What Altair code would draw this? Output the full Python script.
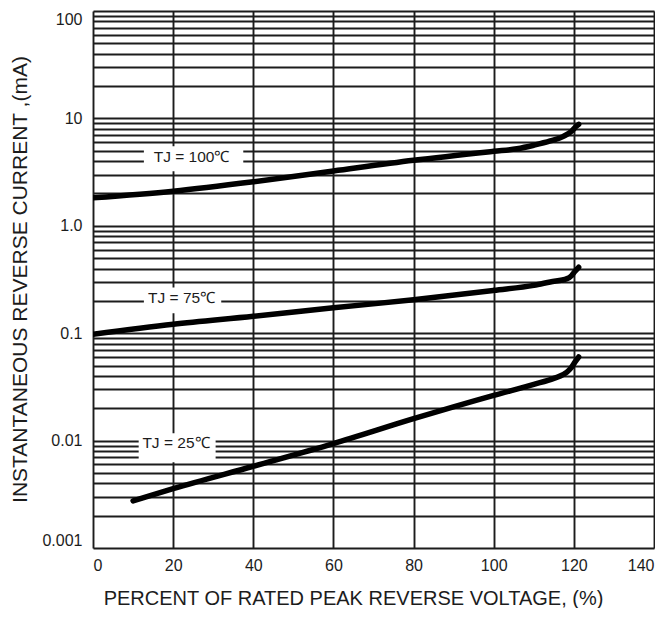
import altair as alt
import pandas as pd

# ---- axis ticks / labels ----
x_ticks = [0, 20, 40, 60, 80, 100, 120, 140]
y_decades = [0.001, 0.01, 0.1, 1, 10, 100]
y_decade_labels = ["0.001", "0.01", "0.1", "1.0", "10", "100"]
y_grid = sorted(set([round(m * 10 ** k, 6) for k in range(-3, 2) for m in range(1, 10)] + [100]))

# ---- curves ----
series_names = ["TJ = 100℃", "TJ = 75℃", "TJ = 25℃"]
x_100 = [0, 20, 40, 60, 80, 100, 105.8, 110, 114.1, 117.4, 119.5, 120.6, 121.2]
y_100 = [1.82, 2.10, 2.57, 3.24, 4.07, 4.94, 5.21, 5.62, 6.16, 6.81, 7.63, 8.44, 8.81]
x_75 = [0, 20, 40, 60, 80, 100, 110, 114.1, 118.3, 119.5, 120.3, 121.2]
y_75 = [0.0977, 0.121, 0.1435, 0.1725, 0.2046, 0.2506, 0.279, 0.300, 0.322, 0.346, 0.377, 0.411]
x_25 = [10, 20, 40, 60, 80, 100, 110, 115, 118.3, 119.4, 120.3, 121.2]
y_25 = [0.00275, 0.00357, 0.00577, 0.00938, 0.0160, 0.0264, 0.0334, 0.0380, 0.0435, 0.0481, 0.054, 0.060]

# ---- annotation anchors ----
label_x = [24.6, 22.1, 20.7]
label_y = [4.34, 0.211, 0.00944]
box_x0 = [12.7, 12.7, 11.4]
box_x1 = [37.5, 32.0, 30.6]
box_y0 = [3.22, 0.153, 0.00628]
box_y1 = [5.50, 0.267, 0.0117]

rows = []
for name, xs, ys in zip(series_names, [x_100, x_75, x_25], [y_100, y_75, y_25]):
    for i, (a, b) in enumerate(zip(xs, ys)):
        rows.append({"series": name, "x": a, "y": b, "order": i})
curves = pd.DataFrame(rows)

ann = pd.DataFrame({
    "label": series_names, "x": label_x, "y": label_y,
    "bx0": box_x0, "bx1": box_x1, "by0": box_y0, "by1": box_y1,
})

FONT = "Liberation Sans"
INK = "#1c1c1c"

label_expr = " : ".join(
    [f"datum.value == {v} ? '{t}'" for v, t in zip(y_decades, y_decade_labels)]
) + " : ''"

xscale = alt.Scale(domain=[0, 140], nice=False, zero=False)
yscale = alt.Scale(type="log", domain=[0.001, 100], nice=False)

x_axis = alt.Axis(
    values=x_ticks, grid=True, gridColor=INK, gridWidth=1.9, gridOpacity=1,
    ticks=False, tickSize=0, domain=False, labelFont=FONT, labelFontSize=16,
    labelColor=INK, labelPadding=9, labelFlush=True,
    title="PERCENT OF RATED PEAK REVERSE VOLTAGE, (%)", titleFont=FONT,
    titleFontSize=20, titleFontWeight="normal", titleColor=INK,
    titleX=260, titleY=50, titleAlign="center", titleBaseline="middle",
)
y_axis = alt.Axis(
    values=y_grid, labelExpr=label_expr, grid=True, gridColor=INK, gridWidth=1.9,
    gridOpacity=1, ticks=False, tickSize=0, domain=False, labelFont=FONT,
    labelFontSize=16, labelColor=INK, labelPadding=11, labelFlush=True,
    labelOverlap=False,
    title="INSTANTANEOUS REVERSE CURRENT ,(mA)", titleFont=FONT, titleFontSize=21,
    titleFontWeight="normal", titleColor=INK, titleX=-73, titleY=268,
    titleAngle=-90, titleAlign="center", titleBaseline="middle",
)

base_lines = alt.Chart(curves).mark_line(
    color="black", strokeWidth=5.5, interpolate="monotone", strokeCap="round", clip=True
).encode(
    x=alt.X("x:Q", scale=xscale, axis=x_axis),
    y=alt.Y("y:Q", scale=yscale, axis=y_axis),
    detail="series:N",
    order="order:Q",
)

boxes = alt.Chart(ann).mark_rect(color="white").encode(
    x=alt.X("bx0:Q", scale=xscale), x2="bx1:Q",
    y=alt.Y("by0:Q", scale=yscale), y2="by1:Q",
)

texts = alt.Chart(ann).mark_text(
    font=FONT, fontSize=15.5, color=INK, align="center", baseline="middle"
).encode(
    x=alt.X("x:Q", scale=xscale), y=alt.Y("y:Q", scale=yscale), text="label:N"
)

chart = alt.layer(base_lines, boxes, texts).properties(
    width=561, height=537,
    autosize=alt.AutoSizeParams(type="none"),
    padding={"left": 85, "top": 3, "right": 1, "bottom": 60},
).configure_view(stroke=INK, strokeWidth=2).configure(background="white")

chart.save("out.html", embed_options={"renderer": "svg", "actions": False})
